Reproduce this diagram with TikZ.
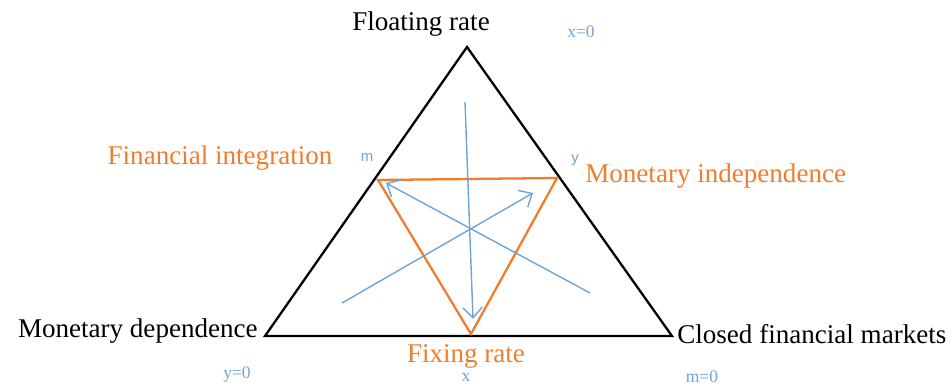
\documentclass[tikz,border=0pt]{standalone}
\usepackage{fontspec}
\setmainfont{Liberation Serif}
\newfontfamily\lblsans{Liberation Sans}
\usetikzlibrary{arrows.meta}
\definecolor{orng}{RGB}{240,125,45}
\definecolor{lblue}{RGB}{110,165,215}
\tikzset{
  big/.style={font=\fontsize{15.4}{17}\selectfont, inner sep=0pt},
  bigO/.style={big, text=orng},
  small/.style={font=\fontsize{10}{11}\selectfont, text=lblue, inner sep=0pt},
  smallsans/.style={font=\lblsans\fontsize{8.5}{9}\selectfont, text=lblue, inner sep=0pt},
  outer/.style={draw=black, line width=1.3pt, line join=miter},
  inner/.style={draw=orng, line width=1.3pt, line join=miter},
  blarrow/.style={draw=lblue, line width=0.8pt, -{Straight Barb[length=6pt,width=11pt]}}
}
\begin{document}
\begin{tikzpicture}[x=0.02cm, y=-0.02cm]
\useasboundingbox (0,0) rectangle (951,385);
% outer triangle
\coordinate (T) at (467,47);
\coordinate (L) at (265,336);
\coordinate (R) at (672,336);
\draw[outer] (T) -- (L) -- (R) -- cycle;
% inner triangle
\coordinate (A) at (378,180);
\coordinate (B) at (557,178);
\coordinate (C) at (471,334);
\draw[inner] (A) -- (B) -- (C) -- cycle;
% blue arrows
\coordinate (v1) at (465,102);
\coordinate (v2) at (473,319);
\coordinate (d1s) at (590,293);
\coordinate (d1e) at (386,183);
\coordinate (d2s) at (342,303);
\coordinate (d2e) at (533,193);
\draw[blarrow] (v1) -- (v2);
\draw[blarrow] (d1s) -- (d1e);
\draw[blarrow] (d2s) -- (d2e);
% labels
\node[big] (float) at (421,24) {Floating rate};
\node[small] (x0) at (581,32) {x=0};
\node[bigO] (fin) at (220,158) {Financial integration};
\node[smallsans] (m) at (367,157) {m};
\node[smallsans] (y) at (575,160) {y};
\node[bigO, anchor=west] (mi) at (585,176) {Monetary independence};
\node[big, anchor=east] (md) at (258,331) {Monetary dependence};
\node[big, anchor=west] (cfm) at (677,334) {Closed financial markets};
\node[bigO] (fix) at (466,356) {Fixing rate};
\node[small] (y0) at (237,375) {y=0};
\node[small] (x) at (466,377) {x};
\node[small] (m0) at (702,377) {m=0};
\end{tikzpicture}
\end{document}
